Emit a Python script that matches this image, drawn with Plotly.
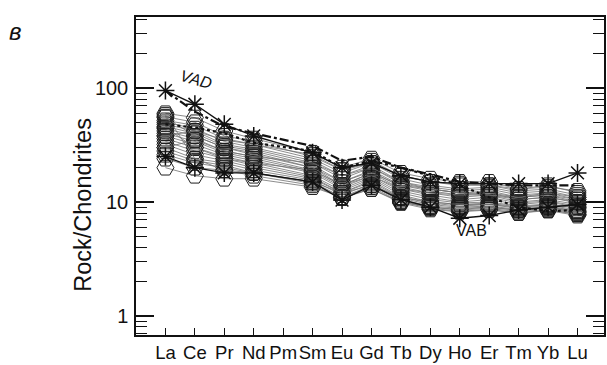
import plotly.graph_objects as go
import math

elements = ["La", "Ce", "Pr", "Nd", "Pm", "Sm", "Eu", "Gd", "Tb", "Dy", "Ho", "Er", "Tm", "Yb", "Lu"]
N = None

samples = [
    [60, 55, 42, 36, N, 27, 20, 24, 18, 16, 15, 15, 13, 14, 12],
    [56, 50, 38, 34, N, 25, 19, 23, 17, 15, 14, 14, 12.5, 13, 11.5],
    [52, 47, 36, 32, N, 24, 18, 22, 16, 14, 13, 13.5, 12, 12.5, 11],
    [50, 44, 34, 30, N, 23, 17, 21, 15, 13.5, 12.5, 13, 11.5, 12, 10.5],
    [48, 42, 32, 29, N, 22, 16, 20, 14.5, 13, 12, 12.5, 11, 11.5, 10],
    [46, 40, 31, 28, N, 21, 15, 19, 14, 12.5, 11.5, 12, 10.5, 11, 9.8],
    [44, 38, 30, 27, N, 20, 15, 18.5, 13.5, 12, 11, 11.5, 10, 10.5, 9.5],
    [42, 36, 28, 25, N, 19, 14, 18, 13, 11.5, 10.5, 11, 9.8, 10.2, 9.2],
    [40, 34, 27, 24, N, 18.5, 13.5, 17, 12.5, 11, 10, 10.5, 9.5, 10, 9],
    [38, 32, 26, 23, N, 18, 13, 16.5, 12, 10.5, 9.8, 10, 9.2, 9.6, 8.8],
    [36, 30, 25, 22, N, 17, 12.5, 16, 11.5, 10, 9.5, 9.8, 9, 9.4, 8.5],
    [34, 28, 24, 21, N, 16.5, 12, 15.5, 11, 9.8, 9.2, 9.5, 8.8, 9.2, 8.3],
    [32, 26, 23, 20, N, 16, 12, 15, 10.8, 9.5, 9, 9.2, 8.6, 9, 8.1],
    [30, 24, 22, 19, N, 15.5, 11.5, 14.5, 10.5, 9.2, 8.8, 9, 8.4, 8.8, 8],
    [28, 23, 21, 18, N, 15, 11, 14, 10.2, 9, 8.5, 8.8, 8.2, 8.6, 7.8],
    [26, 22, 20, 18, N, 14.5, 11, 13.5, 10, 8.8, 8.3, 8.6, 8, 8.4, 7.6],
    [24, 20, 19, 17, N, 14, 10.8, 13, 9.8, 8.6, 8.2, 8.5, 8, 8.5, 7.8],
    [20, 17, 16, 16, N, 13.5, 11, 13, 10, 9, 8.6, 9, 8.5, 9, 8.3],
    [45, 30, 24, 22, N, 19, 14, 18, 14, 13, 12, 12, 11, 12, 11],
    [55, 38, 30, 26, N, 20, 14, 17, 13, 12, 11.5, 11.5, 10.5, 11, 10],
    [38, 42, 35, 32, N, 26, 19, 22, 17, 15, 14.5, 14, 13, 13.5, 12.5],
    [30, 35, 28, 25, N, 22, 17, 20, 15, 13, 12, 11.5, 11, 11.5, 10.5],
    [58, 24, 19, 18, N, 15, 12, 14, 11, 10, 9.5, 9.5, 9, 9.5, 9],
]

vad_solid = [95, 72, 48, 38, N, 27, 20, 22, 17, 15, 14.5, 14.5, 14.5, 14.5, 18]
vad_dashdot = [95, 62, 46, 40, N, 31, 23, 25, 20, 17.5, 15, 14.5, 14, 14, 14]
vab_line = [25, 20, 18, 18, N, 15, 10.4, 14, 10.5, 9, 7.2, 7.6, 8.5, 9, 9.5]
dotted_line = [48, 45, 40, 33, N, 28, 20, 23, 20, 17, 14, 11, 9, 8.3, 8.5]

x = list(range(len(elements)))
fig = go.Figure()

for s in samples:
    fig.add_trace(go.Scatter(
        x=x, y=s, mode="lines+markers", connectgaps=True,
        line=dict(color="#707070", width=0.8),
        marker=dict(symbol="hexagon2-open", size=17, color="#1e1e1e",
                    line=dict(color="#1e1e1e", width=1)),
        showlegend=False, hoverinfo="skip"))

fig.add_trace(go.Scatter(
    x=x, y=dotted_line, mode="lines", connectgaps=True,
    line=dict(color="#111111", width=2.2, dash="dot"), showlegend=False))
fig.add_trace(go.Scatter(
    x=x, y=vad_dashdot, mode="lines", connectgaps=True,
    line=dict(color="#111111", width=2.2, dash="dashdot"), showlegend=False))
fig.add_trace(go.Scatter(
    x=x, y=vad_solid, mode="lines+markers", connectgaps=True,
    line=dict(color="#111111", width=1.4),
    marker=dict(symbol="asterisk-open", size=15, color="#111111",
                line=dict(color="#111111", width=1.5)),
    showlegend=False))
fig.add_trace(go.Scatter(
    x=x, y=vab_line, mode="lines+markers", connectgaps=True,
    line=dict(color="#111111", width=1.4),
    marker=dict(symbol="asterisk-open", size=15, color="#111111",
                line=dict(color="#111111", width=1.5)),
    showlegend=False))

fig.add_annotation(x=1.05, y=math.log10(118), text="<i>VAD</i>", showarrow=False,
                   textangle=15, font=dict(size=16, color="#111"))
fig.add_annotation(x=10.4, y=math.log10(5.6), text="VAB", showarrow=False,
                   font=dict(size=16, color="#111"))
fig.add_annotation(xref="paper", yref="paper", x=-0.2585, y=0.955, text="<i>в</i>",
                   showarrow=False, font=dict(size=24, color="#111"), xanchor="center",
                   yanchor="middle")
fig.add_annotation(xref="paper", yref="paper", x=-0.115, y=0.41, text="Rock/Chondrites",
                   showarrow=False, textangle=-90, font=dict(size=23.5, color="#111"),
                   xanchor="center", yanchor="middle")

fig.update_xaxes(
    range=[-1.0, 14.9], tickmode="array", tickvals=x, ticktext=elements,
    tickangle=0, automargin=False,
    ticks="inside", ticklen=7, tickwidth=1, tickcolor="#111",
    showline=True, linecolor="#111", linewidth=1.5, mirror=True,
    showgrid=False, zeroline=False, tickfont=dict(size=18.5, color="#111"))
fig.update_yaxes(
    type="log", range=[math.log10(0.68), math.log10(420)],
    tickvals=[1, 10, 100], ticktext=["1", "10", "100"], automargin=False,
    ticks="inside", ticklen=18, tickwidth=1.5, tickcolor="#111",
    ticklabelstandoff=2,
    minor=dict(ticks="inside", ticklen=11, tickwidth=1, tickcolor="#111",
               tickvals=[v * d for d in (0.1, 1, 10, 100) for v in range(2, 10)]),
    showline=True, linecolor="#111", linewidth=1.5, mirror="allticks",
    showgrid=False, zeroline=False, tickfont=dict(size=20, color="#111"))

fig.update_layout(
    width=607, height=365, margin=dict(l=136, r=3, t=17, b=30),
    paper_bgcolor="white", plot_bgcolor="white",
    font=dict(family="Liberation Sans, Arial, sans-serif"))

fig.write_html("out.html", config={"displayModeBar": False},
               post_script="document.body.style.margin='0';document.body.style.overflow='hidden';")
